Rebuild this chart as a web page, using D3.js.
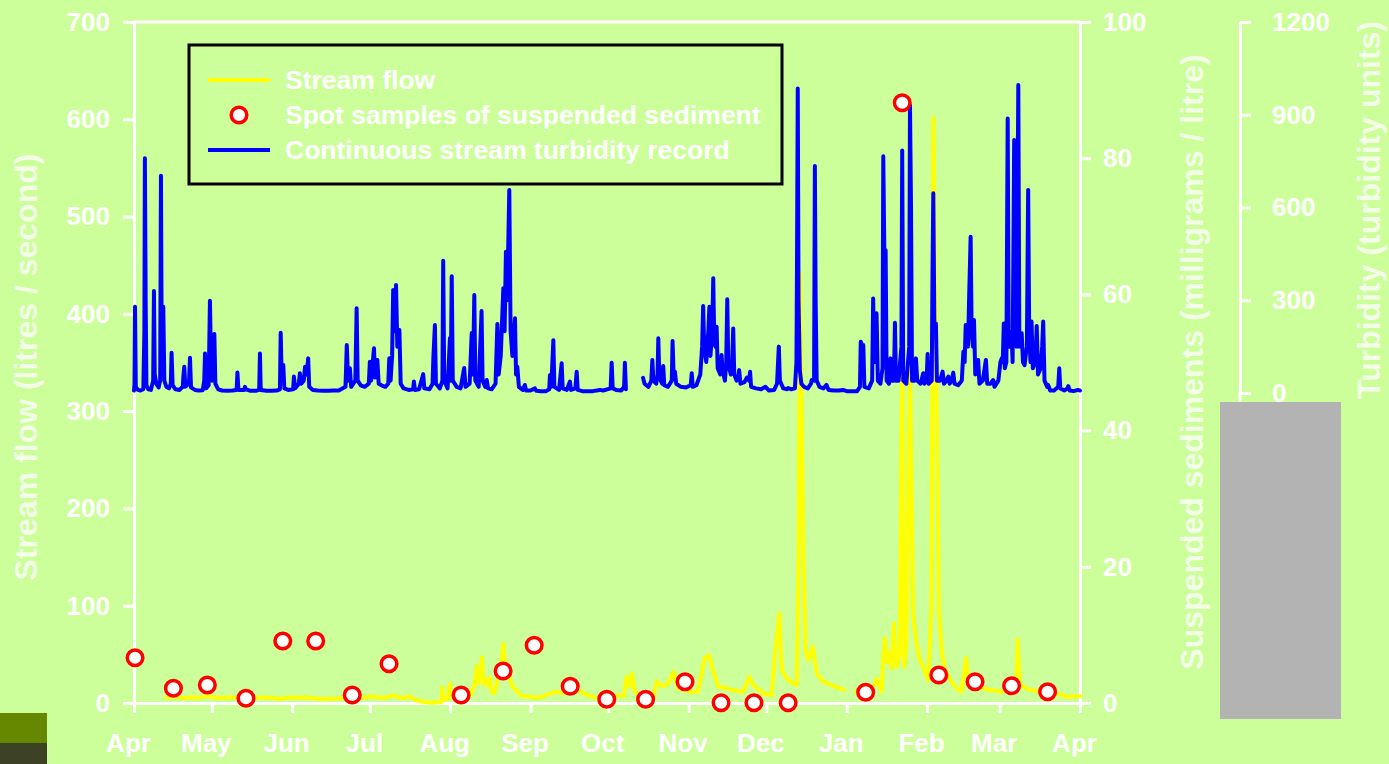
<!DOCTYPE html>
<html>
<head>
<meta charset="utf-8">
<script src="https://cdn.jsdelivr.net/npm/d3@7"></script>
<style>
  html, body { margin: 0; padding: 0; background: #ccff99; }
  svg { display: block; }
  text { font-family: "Liberation Sans", Arial, sans-serif; font-weight: bold; }
</style>
</head>
<body>
<svg id="chart" width="1389" height="764"></svg>
<script>
// Record year runs from 1 April to 1 April; positions are given as days since 1 April.
const recordStart = Date.UTC(2001, 3, 1);
const recordEnd = Date.UTC(2002, 3, 1);

const flowTicks = [0, 100, 200, 300, 400, 500, 600, 700];
const sedimentTicks = [0, 20, 40, 60, 80, 100];
const turbidityTicks = [0, 300, 600, 900, 1200];

const legendLabels = ["Stream flow", "Spot samples of suspended sediment", "Continuous stream turbidity record"];

// Spot samples of suspended sediment (mg/L)
const sampleDays = [0.4, 15.2, 28.3, 43.2, 57.4, 70.1, 84.2, 98.4, 126.2, 142.4, 154.4, 168.3,
  182.4, 197.4, 212.6, 226.5, 239.2, 252.4, 282.3, 296.4, 310.5, 324.5, 338.6, 352.5];
const sampleValues = [6.65, 2.16, 2.64, 0.69, 9.1, 9.1, 1.17, 5.77, 1.17, 4.7, 8.47, 2.45,
  0.54, 0.54, 3.13, 0.04, 0.04, 0.04, 1.57, 88.15, 4.11, 3.13, 2.54, 1.66];

// Stream flow (L/s): [day, value]; null marks a break in the record
const flowRecord = [
  [12.5,6],[16,6.5],[19,5],[22,6],[25,5.5],[28,7],[31,6],[34,5.5],[37,6],[40,5],[43,4],[46,5],
  [49,6],[52,5.5],[55,5],[56.8,4],[56.9,null],[57.2,5],[60,6],[63,5.5],[66,6],[69,5],[72,4],[75,4],
  [78,4.5],[81,5],[84,5],[87,5.5],[90,6],[92,7],[95,5.5],[98,6],[100,8],[102,6],[104,5],[106,7],
  [108,4],[110,2],[112,1],[114,0.5],[116,0.5],[118.5,1],[119.0,16],[119.4,3],[121,5],[121.9,19.5],
  [122.3,6],[124,5],[126,6],[128,7],[130,9],[131.5,20],[132.2,38],[132.8,20],[133.8,30],[134.2,47],
  [134.8,20],[135.5,25],[136.3,18],[137.3,26],[138,12],[139,10],[140,20],[141,35],[142,45],[142.5,61],
  [143,45],[144.4,30],[146,17],[148,12],[149,8],[151,7],[153,6.5],[155,6],[157,6],[159,8],[162.5,11.6],
  [166,10],[170,15],[172,12],[175,8],[177.5,6],[180,5],[183,6],[186,7],[188,8],[189,7],[190,27],
  [191,17],[192.2,30.5],[193.2,11.6],[196,7],[200.5,6.5],[201.6,22],[204,17],[206,20],[208.1,32],
  [209.9,15],[214.5,11.6],[217.6,11.6],[220.2,46],[221.9,49],[223.4,34],[225.4,17],[228.6,15],
  [231.2,13.4],[235.1,11.6],[237.4,27],[238.9,18.5],[242.8,10],[246,8],[247.3,51],[249.0,92],
  [249.9,34],[251.9,25],[254.4,20],[255.7,18.5],[256.4,150],[257,442],[257.6,300],[258.3,150],
  [259.1,54],[260.2,44],[261.9,58],[263.4,30.5],[265.9,22],[269.8,17.5],[274.0,13.4],[275,null],
  [278.5,12],[282,15],[285.9,18.5],[286.6,25],[288.5,11.6],[289.1,47.6],[289.7,66.5],[290.6,42],
  [291.7,51],[292.3,35.7],[293.2,82],[294.2,37],[295.5,50],[296.4,380],[297.2,37],[298.0,60],
  [299.4,350],[300.6,92],[301.9,61],[303.2,44],[304.5,37],[306.4,23.6],[307.7,100],[308.4,601],
  [309.3,400],[310.6,95],[311.6,54],[312.9,34],[315.4,22],[317.4,15],[319.3,11.6],[321,46],
  [321.8,27],[325,17],[330.2,13.4],[335.3,11.6],[340.5,20],[340.9,65],[341.8,18.5],[345.7,13.4],
  [350.8,11.6],[355.9,10],[359.8,6.5],[363.6,7],[365,7]
];

// Continuous turbidity (turbidity units): [day, value]; null marks the logger outage
const turbidityRecord = [
  [0,8],[0.2,30],[0.4,279],[0.7,20],[1.5,10],[2.5,8],[3.6,12],[4.0,200],[4.2,759],[4.5,300],[4.8,25],
  [5.5,12],[6.5,10],[7.4,40],[7.7,330],[8.0,60],[8.6,30],[9.5,18],[10.1,40],[10.4,703],[10.7,120],
  [11.0,60],[11.3,279],[11.7,40],[12.5,20],[13.5,15],[14.2,30],[14.5,130],[14.9,25],[16,12],[17.5,10],
  [18.8,20],[19.1,60],[19.4,85],[19.8,20],[21.2,30],[21.6,114],[22.0,18],[23.5,10],[25,8],[26.5,9],
  [27.1,40],[27.4,128],[27.8,15],[28.8,25],[29.3,298],[29.7,100],[30.2,40],[31.0,191],[31.4,30],
  [32.5,12],[34,8],[36,7],[38,8],[39.6,10],[39.9,66],[40.3,10],[42.5,10],[42.8,20],[43.2,12],[45,7],
  [47,7],[48.3,10],[48.6,128],[48.9,10],[51,7],[53,7],[55,8],[56.3,12],[56.6,195],[57.0,40],[57.6,91],
  [58.0,15],[59.5,10],[61.4,12],[61.7,53],[62.2,15],[63.6,30],[64.0,64],[64.5,30],[65.5,40],[66.0,85],
  [66.6,60],[67.2,112],[67.6,20],[69,10],[71,8],[73,7],[75,7],[77,8],[79,8],[81.6,20],[82.1,155],
  [82.6,40],[83.3,80],[83.8,20],[85.4,40],[85.9,274],[86.3,40],[87.5,25],[89,20],[90.6,30],[91.0,101],
  [91.5,40],[92.6,145],[93.0,50],[93.9,107],[94.4,30],[95.5,25],[97,20],[98.1,30],[98.5,112],[99,40],
  [99.6,120],[100.0,333],[100.5,200],[101.1,349],[101.6,150],[102.4,204],[102.9,30],[104,15],[106,10],
  [107.7,12],[108.0,37],[108.4,10],[110,12],[111.6,61],[112,15],[114,12],[115.2,30],[115.5,113],
  [116.1,220],[116.5,30],[118,15],[119.0,40],[119.3,428],[119.7,40],[121,15],[121.9,178],[122.2,40],
  [122.6,378],[123,40],[124.5,20],[126,15],[127.4,81],[127.9,20],[129.5,30],[130.3,194],[130.8,60],
  [131.3,317],[131.7,40],[133,20],[134.1,265],[134.5,40],[135.5,20],[136.1,42],[136.6,15],[138,12],
  [139.5,30],[140.2,223],[140.7,60],[141.5,120],[142.5,339],[143.0,200],[143.5,457],[144.0,300],
  [144.8,657],[145.3,200],[146,120],[147.0,242],[147.4,60],[147.9,85],[148.5,20],[150,10],[150.8,26],
  [151.3,8],[153,8],[154.7,15],[155.2,7],[157,6],[159,6],[160.2,12],[160.5,58],[161.0,20],[161.8,171],
  [162.2,20],[164,10],[165.0,96],[165.4,15],[167,10],[168.2,37],[168.6,10],[170.3,15],[170.8,69],
  [171.2,10],[173,6],[175,6],[177,6],[179.8,10],[181,8],[183.9,15],[184.3,98],[184.7,15],[186,10],
  [188,8],[189.1,20],[189.4,98],[189.8,12],[190.5,null],
  [196.4,49],[197,30],[198.5,20],[199.6,40],[200.0,107],[200.4,40],[201.5,30],[202.0,60],[202.3,177],
  [202.7,50],[203.8,30],[204.2,87],[204.6,25],[206,20],[207.5,40],[207.8,168],[208.2,60],[208.7,69],
  [209.2,30],[211,20],[213,18],[214.8,25],[215.2,64],[215.6,20],[217,25],[218.5,60],[219.2,150],
  [219.6,281],[220.0,150],[220.8,100],[221.6,200],[222.0,279],[222.4,120],[223.1,200],[223.5,371],
  [223.9,160],[224.4,150],[224.8,214],[225.2,80],[226.2,60],[226.7,123],[227.1,70],[228.0,40],
  [228.5,100],[228.9,303],[229.3,90],[230.3,60],[230.8,100],[231.2,209],[231.6,60],[232.5,40],
  [233.1,50],[233.5,74],[234,30],[235.5,35],[236.5,50],[237.3,40],[237.7,69],[238.1,20],[240,15],
  [242,12],[243.6,20],[244.1,16],[245,8],[247,10],[248.1,30],[248.5,100],[248.8,150],[249.2,40],
  [250.5,15],[252,12],[252.4,16],[253.5,12],[255,15],[255.6,100],[255.8,400],[256.1,985],[256.4,300],
  [256.9,74],[257.5,30],[258.5,20],[260,15],[261.2,30],[261.5,42],[262.4,40],[262.7,734],[263.0,300],
  [263.4,40],[264.5,20],[266,15],[267.2,26],[268,10],[270,8],[272,8],[273.6,10],[275,6],[277,6],
  [279,6],[280.1,20],[280.4,166],[280.9,155],[281.4,155],[281.8,20],[283.5,15],[284.8,40],[285.2,306],
  [285.6,100],[286.5,258],[287,40],[288,30],[288.8,80],[289.1,766],[289.5,462],[290.0,462],[290.4,40],
  [291.3,30],[291.9,112],[292.4,40],[293.2,40],[293.6,227],[294,40],[295,40],[296.1,150],[296.4,784],
  [296.8,40],[298,30],[299.1,150],[299.4,931],[299.8,600],[300.2,40],[301.2,40],[301.7,112],
  [302.2,40],[303.5,30],[304.5,64],[305,30],[305.8,40],[306.2,126],[306.6,30],[307.8,40],[308.1,400],
  [308.4,646],[308.8,225],[309.4,225],[309.8,40],[311,40],[312,69],[312.5,30],[313.5,40],[314.2,53],
  [314.7,30],[315.5,40],[316.1,66],[316.6,30],[318,25],[319.4,40],[320.0,134],[320.5,100],[320.9,220],
  [321.3,220],[321.8,150],[322.2,300],[322.8,505],[323.2,200],[323.7,150],[324.1,236],[324.6,60],
  [325.2,80],[325.7,107],[326.2,30],[327.5,40],[328.2,80],[328.7,107],[329.2,30],[330.5,30],
  [331.5,42],[332,20],[333.5,40],[334.3,100],[334.8,112],[335.2,100],[335.6,225],[336.0,80],
  [336.6,100],[337.1,888],[337.5,150],[338.1,150],[338.6,198],[339.0,100],[339.6,818],[340.0,200],
  [340.5,150],[341.2,996],[341.6,150],[342.5,193],[343,100],[343.6,90],[344.5,150],[345.0,657],
  [345.4,200],[345.9,100],[346.3,231],[346.8,80],[347.8,100],[348.3,217],[348.8,60],[349.8,80],
  [350.4,150],[350.8,231],[351.3,40],[352.3,20],[352.7,26],[353.5,8],[355,8],[356.6,20],[357.0,80],
  [357.4,15],[359,8],[360.1,15],[360.5,22],[361,8],[362.5,6],[364.3,10],[365,8]
];

const dayToDate = d => new Date(recordStart + d * 864e5);

const svg = d3.select("#chart");
const W = 1389, H = 764;
const plotLeft = 134, plotRight = 1080, plotTop = 22, plotBottom = 703;
const turbAxisX = 1240, turbZeroY = 393;
const tickFont = 26;

svg.append("rect").attr("width", W).attr("height", H).attr("fill", "#ccff99");

const x = d3.scaleUtc().domain([new Date(recordStart), new Date(recordEnd)]).range([plotLeft, plotRight]);
const yFlow = d3.scaleLinear().domain([0, 700]).range([plotBottom, plotTop]);
const ySed = d3.scaleLinear().domain([0, 100]).range([plotBottom, plotTop]);
const yTurb = d3.scaleLinear().domain([0, 1200]).range([turbZeroY, plotTop]);

function styleAxis(g, fontSize) {
  g.select(".domain").attr("stroke", "#ffffff").attr("stroke-width", 3);
  g.selectAll(".tick line").attr("stroke", "#ffffff").attr("stroke-width", 3);
  g.selectAll(".tick text").attr("fill", "#ffffff").style("font-size", fontSize + "px")
    .style("font-weight", "bold").style("font-family", '"Liberation Sans", Arial, sans-serif');
}

// Frame line along the top of the plot
svg.append("line").attr("x1", plotLeft).attr("x2", plotRight).attr("y1", plotTop).attr("y2", plotTop)
  .attr("stroke", "#ffffff").attr("stroke-width", 3);

// Stream flow axis (left)
svg.append("g").attr("transform", `translate(${plotLeft},0)`)
  .call(d3.axisLeft(yFlow).tickValues(flowTicks).tickFormat(d3.format("d"))
    .tickSize(11).tickSizeOuter(0).tickPadding(13))
  .call(g => styleAxis(g, tickFont));

// Suspended sediment axis (right)
svg.append("g").attr("transform", `translate(${plotRight},0)`)
  .call(d3.axisRight(ySed).tickValues(sedimentTicks).tickFormat(d3.format("d"))
    .tickSize(11).tickSizeOuter(0).tickPadding(12))
  .call(g => styleAxis(g, tickFont));

// Turbidity axis (far right); its line runs the full plot height
svg.append("line").attr("x1", turbAxisX).attr("x2", turbAxisX).attr("y1", turbZeroY).attr("y2", plotBottom)
  .attr("stroke", "#ffffff").attr("stroke-width", 3);
svg.append("g").attr("transform", `translate(${turbAxisX},0)`)
  .call(d3.axisRight(yTurb).tickValues(turbidityTicks).tickFormat(d3.format("d"))
    .tickSize(11).tickSizeOuter(0).tickPadding(21))
  .call(g => styleAxis(g, tickFont));

// Month axis (bottom)
svg.append("g").attr("transform", `translate(0,${plotBottom})`)
  .call(d3.axisBottom(x).ticks(d3.utcMonth.every(1)).tickFormat(d3.utcFormat("%b"))
    .tickSize(10).tickSizeOuter(0).tickPadding(21))
  .call(g => styleAxis(g, tickFont))
  .call(g => g.selectAll(".tick text").attr("dx", -6));

// Axis titles
const titleStyle = t => t.attr("fill", "#ffffff").attr("fill-opacity", 0.78)
  .attr("text-anchor", "middle").style("font-size", "32px");
svg.append("text").attr("transform", "translate(37,367) rotate(-90)")
  .text("Stream flow (litres / second)").call(titleStyle);
svg.append("text").attr("transform", "translate(1203,362) rotate(-90)")
  .text("Suspended sediments (milligrams / litre)").call(titleStyle);
svg.append("text").attr("transform", "translate(1380,210) rotate(-90)")
  .text("Turbidity (turbidity units)").call(titleStyle);

// Stream flow line
const flowLine = d3.line()
  .defined(d => d[1] !== null)
  .x(d => x(dayToDate(d[0])))
  .y(d => yFlow(d[1]));
svg.append("path").datum(flowRecord).attr("d", flowLine)
  .attr("fill", "none").attr("stroke", "#ffff00").attr("stroke-width", 4)
  .attr("stroke-linejoin", "round").attr("stroke-linecap", "round");

// Turbidity line
const turbLine = d3.line()
  .defined(d => d[1] !== null)
  .x(d => x(dayToDate(d[0])))
  .y(d => yTurb(d[1]));
svg.append("path").datum(turbidityRecord).attr("d", turbLine)
  .attr("fill", "none").attr("stroke", "#0000ff").attr("stroke-width", 4)
  .attr("stroke-linejoin", "round").attr("stroke-linecap", "round");

// Spot samples
svg.append("g").selectAll("circle")
  .data(sampleDays.map((d, i) => ({ day: d, value: sampleValues[i] })))
  .join("circle")
  .attr("cx", d => x(dayToDate(d.day)))
  .attr("cy", d => ySed(d.value))
  .attr("r", 7.8)
  .attr("fill", "#ffffff").attr("stroke", "#ff0000").attr("stroke-width", 3.5);

// Legend
const legend = svg.append("g");
legend.append("rect").attr("x", 189).attr("y", 45).attr("width", 593).attr("height", 139)
  .attr("fill", "none").attr("stroke", "#000000").attr("stroke-width", 3);
const rowY = [80, 115, 150];
legend.append("line").attr("x1", 208).attr("x2", 270).attr("y1", rowY[0]).attr("y2", rowY[0])
  .attr("stroke", "#ffff00").attr("stroke-width", 4);
legend.append("circle").attr("cx", 239).attr("cy", rowY[1]).attr("r", 7.8)
  .attr("fill", "#ffffff").attr("stroke", "#ff0000").attr("stroke-width", 3.5);
legend.append("line").attr("x1", 208).attr("x2", 270).attr("y1", rowY[2]).attr("y2", rowY[2])
  .attr("stroke", "#0000ff").attr("stroke-width", 4);
legend.selectAll("text.label").data(legendLabels).join("text")
  .attr("class", "label")
  .attr("x", 285).attr("y", (d, i) => rowY[i]).attr("dy", "0.35em")
  .attr("fill", "#ffffff").style("font-size", "26.5px")
  .text(d => d);

// Grey panel over the lower part of the turbidity axis
svg.append("rect").attr("x", 1220).attr("y", 402).attr("width", 121).attr("height", 317)
  .attr("fill", "#b3b3b3");

// Corner swatches
svg.append("rect").attr("x", 0).attr("y", 713).attr("width", 47).attr("height", 30).attr("fill", "#668800");
svg.append("rect").attr("x", 0).attr("y", 743).attr("width", 47).attr("height", 21).attr("fill", "#3e4224");
</script>
</body>
</html>
